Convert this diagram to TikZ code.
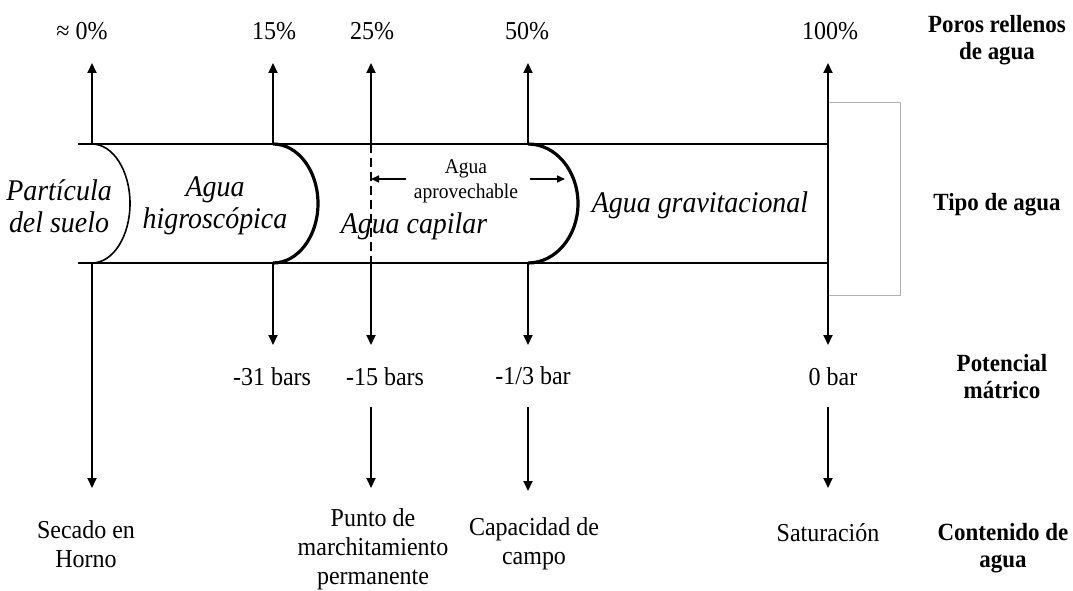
\documentclass[tikz,border=0pt]{standalone}
\usepackage{fontspec}
\setmainfont{Liberation Serif}[FakeStretch=0.93]
\usetikzlibrary{arrows.meta}
\begin{document}
\begin{tikzpicture}[x=1pt,y=1pt,
 barline/.style={line width=2pt},
 arr/.style={line width=2pt,-{Triangle[length=10pt,width=9pt]}},
 thinarr/.style={line width=1.6pt,-{Triangle[length=8pt,width=7pt]}},
 lbl/.style={font=\fontsize{25.8}{29}\selectfont,align=center,inner sep=0pt},
 hdr/.style={font=\bfseries\fontsize{24.7}{27}\selectfont,align=center,inner sep=0pt},
 zone/.style={font=\itshape\fontsize{30}{32}\selectfont,align=center,inner sep=0pt},
 small/.style={font=\fontsize{21}{25}\selectfont,align=center,inner sep=0pt},
 meniscus/.style={line width=3.2pt},
 grain/.style={line width=1.6pt},
 grayframe/.style={draw=black!30,line width=1pt}]
\useasboundingbox (0,0) rectangle (1073,590);
% key coordinates
\foreach \n/\x in {z/92,a/273,b/371,c/528,d/828}{
  \coordinate (\n-tip) at (\x,527);
  \coordinate (\n-top) at (\x,446);
  \coordinate (\n-bot) at (\x,327);
  \coordinate (\n-low) at (\x,245);
  \coordinate (\n-mid) at (\x,183);
  \coordinate (\n-end) at (\x,102);
}
\coordinate (barL-top) at (78,446);
\coordinate (barL-bot) at (78,327);
% bar
\draw[barline] (barL-top) -- (d-top);
\draw[barline] (barL-bot) -- (d-bot);
\draw[barline] (d-top) -- (d-bot);
% gray frame
\coordinate (g1) at (828,487);
\coordinate (g2) at (900,487);
\coordinate (g3) at (900,295);
\coordinate (g4) at (828,295);
\draw[grayframe] (g1) -- (g2) -- (g3) -- (g4);
% curves
\draw[grain] (z-top) arc[start angle=90,end angle=-90,x radius=38,y radius=59.5];
\draw[meniscus] (a-top) arc[start angle=90,end angle=-90,x radius=45,y radius=59.5];
\draw[meniscus] (c-top) arc[start angle=90,end angle=-90,x radius=50,y radius=59.5];
% dashed line
\draw[line width=2pt,dash pattern=on 9pt off 5pt] (b-top) -- (b-bot);
% up arrows
\foreach \n in {z,a,b,c,d}{ \draw[arr] (\n-top) -- (\n-tip); }
% down arrows
\draw[arr] (z-bot) -- (z-end);
\foreach \n in {a,b,c,d}{ \draw[arr] (\n-bot) -- (\n-low); }
\draw[arr] (b-mid) -- (b-end);
\coordinate (c-end2) at (528,99);
\draw[arr] (c-mid) -- (c-end2);
\draw[arr] (d-mid) -- (d-end);
% agua aprovechable arrows
\coordinate (ap-l1) at (406,411);
\coordinate (ap-l2) at (371,411);
\coordinate (ap-r1) at (530,411);
\coordinate (ap-r2) at (565,411);
\draw[thinarr] (ap-l1) -- (ap-l2);
\draw[thinarr] (ap-r1) -- (ap-r2);
% top labels
\node[lbl] (p0) at (82,559) {≈ 0\%};
\node[lbl] (p15) at (274,559) {15\%};
\node[lbl] (p25) at (372,559) {25\%};
\node[lbl] (p50) at (527,559) {50\%};
\node[lbl] (p100) at (830,559) {100\%};
\node[hdr] (h1) at (997,550) {Poros rellenos\\de agua};
% zone labels
\node[zone] (zp) at (59,384) {Partícula\\del suelo};
\node[zone] (zh) at (215,384) {Agua\\higroscópica};
\node[zone] (zc) at (414,364) {Agua capilar};
\node[zone] (zg) at (700,385) {Agua gravitacional};
\node[small] (za) at (466,409) {Agua\\aprovechable};
\node[hdr] (h2) at (997,385) {Tipo de agua};
% potential labels
\node[lbl] (m31) at (272,213) {-31 bars};
\node[lbl] (m15) at (385,213) {-15 bars};
\node[lbl] (m13) at (533,214) {-1/3 bar};
\node[lbl] (m0) at (833,213) {0 bar};
\node[hdr] (h3) at (1002,213) {Potencial\\mátrico};
% bottom labels
\node[lbl] (b1) at (86,46) {Secado en\\Horno};
\node[lbl] (b2) at (373,41) {Punto de\\marchitamiento\\permanente};
\node[lbl] (b3) at (534,46) {Capacidad de\\campo};
\node[lbl] (b4) at (828,57) {Saturación};
\node[hdr] (h4) at (1003,42) {Contenido de\\agua};
\end{tikzpicture}
\end{document}
